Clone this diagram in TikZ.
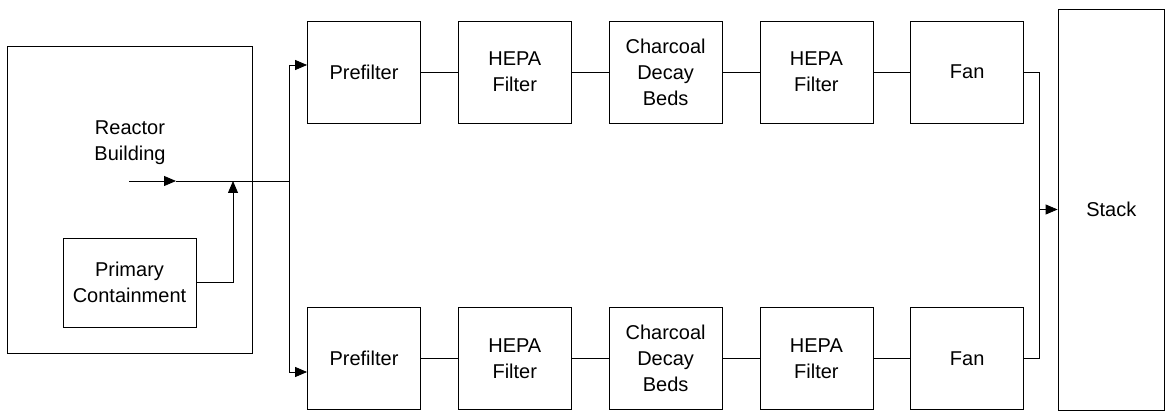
\documentclass[tikz,border=0pt]{standalone}
\usepackage{fontspec}
\setmainfont{Liberation Sans}
\usetikzlibrary{arrows.meta,positioning}

\tikzset{
  unit/.style={draw,line width=0.8pt,minimum width=113pt,minimum height=102pt,
    inner sep=0pt,align=center,font=\fontsize{20}{26}\selectfont},
  pipe/.style={line width=0.8pt},
}

\begin{document}
\begin{tikzpicture}[x=1pt,y=-1pt,>={Triangle[length=12pt,width=10pt]}]
  \useasboundingbox (0,0) rectangle (1165,411);

  % reactor building with primary containment
  \node[unit,minimum width=245pt,minimum height=307pt] (rb) at (129.5,199.5) {};
  \node[unit,minimum width=133pt,minimum height=89pt] (pc) at (129.5,282.5)
       {Primary\\Containment};
  \node[align=center,inner sep=0pt,font=\fontsize{20}{26}\selectfont] (rblabel)
       at (130,143) {Reactor\\Building};

  % two filter trains
  \node[unit] (pre1) at (364,72) {Prefilter};
  \node[unit,right=37pt of pre1] (hepaA1) {HEPA\\Filter};
  \node[unit,right=37pt of hepaA1] (char1) {Charcoal\\Decay\\Beds};
  \node[unit,right=37pt of char1] (hepaB1) {HEPA\\Filter};
  \node[unit,right=37pt of hepaB1] (fan1) {Fan};

  \node[unit] (pre2) at (364,358.5) {Prefilter};
  \node[unit,right=37pt of pre2] (hepaA2) {HEPA\\Filter};
  \node[unit,right=37pt of hepaA2] (char2) {Charcoal\\Decay\\Beds};
  \node[unit,right=37pt of char2] (hepaB2) {HEPA\\Filter};
  \node[unit,right=37pt of hepaB2] (fan2) {Fan};

  \node[unit,minimum width=106.5pt,minimum height=401pt] (stack) at (1111.25,209.5) {Stack};

  % inlet header
  \coordinate (rbin) at (129,181);
  \coordinate (rbtip) at (176,181);
  \coordinate (join) at (233,181);
  \coordinate (bus) at (289,181);
  \coordinate (bustop) at (289,65);
  \coordinate (busbot) at (289,372);
  \draw[pipe,->] (rbin) -- (rbtip);
  \draw[pipe] (rbtip) -- (bus);
  \draw[pipe,->] (pc.east) -| (join);
  \draw[pipe] (bustop) -- (busbot);
  \draw[pipe,->] (bustop) -- (pre1.west |- bustop);
  \draw[pipe,->] (busbot) -- (pre2.west |- busbot);

  % train connections
  \foreach \r in {1,2}{
    \draw[pipe] (pre\r) -- (hepaA\r);
    \draw[pipe] (hepaA\r) -- (char\r);
    \draw[pipe] (char\r) -- (hepaB\r);
    \draw[pipe] (hepaB\r) -- (fan\r);
  }

  % to stack
  \coordinate (merge) at (1039,209.5);
  \draw[pipe] (fan1.east) -| (merge) |- (fan2.east);
  \draw[pipe,->] (merge) -- (stack.west |- merge);
\end{tikzpicture}
\end{document}
